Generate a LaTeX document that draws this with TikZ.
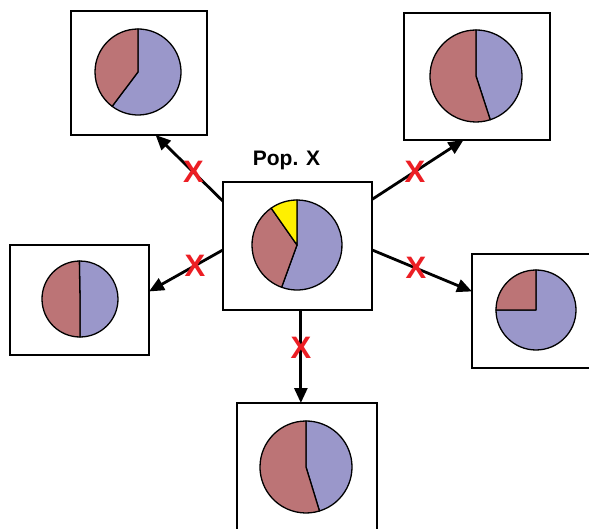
\documentclass[tikz,border=0pt]{standalone}
\usepackage{fontspec}
\setmainfont{Liberation Sans}
\usetikzlibrary{arrows.meta, positioning}
\definecolor{pieblue}{RGB}{154,151,202}
\definecolor{piered}{RGB}{188,116,118}
\definecolor{pieyellow}{RGB}{255,240,0}
\definecolor{xred}{RGB}{236,30,36}

\begin{document}
\begin{tikzpicture}[x=1pt, y=1pt,
  popbox/.style={draw, line width=1.5pt, outer sep=0pt, inner sep=0pt, fill=white},
  slice/.style={draw, line width=1.3pt, line join=round},
  arr/.style={line width=2.8pt, -{Triangle[length=15pt,width=13pt]}},
  xmark/.style={text=xred, font=\bfseries\fontsize{31}{31}\selectfont, inner sep=0pt}]
\useasboundingbox (0,0) rectangle (589,528);
\clip (0,0) rectangle (589,528);
					% Population boxes
					\node[popbox, minimum width=149pt, minimum height=128pt] (popx) at (297.5,282) {};
					\node[popbox, minimum width=136pt, minimum height=124pt] (tl) at (139,455) {};
					\node[popbox, minimum width=146pt, minimum height=127pt] (tr) at (477,451.5) {};
					\node[popbox, minimum width=139pt, minimum height=110pt] (lf) at (79.5,228) {};
					\node[popbox, minimum width=128pt, minimum height=114pt] (rt) at (536,217) {};
					\node[popbox, minimum width=140pt, minimum height=128pt] (bt) at (307,61) {};
					% Title
					\node[inner sep=0pt, font=\bfseries\fontsize{21}{21}\selectfont,
					above=12pt of popx.north, xshift=-11pt] (title) {Pop. X};
					% Pie charts
					\fill[slice, fill=pieblue] (297,283) -- ++(-110:45) arc[start angle=-110, end angle=90, radius=45] -- cycle;
					\fill[slice, fill=piered] (297,283) -- ++(125:45) arc[start angle=125, end angle=250, radius=45] -- cycle;
					\fill[slice, fill=pieyellow] (297,283) -- ++(90:45) arc[start angle=90, end angle=125, radius=45] -- cycle;
					\fill[slice, fill=pieblue] (138,456) -- ++(-127:43) arc[start angle=-127, end angle=90, radius=43] -- cycle;
					\fill[slice, fill=piered] (138,456) -- ++(90:43) arc[start angle=90, end angle=233, radius=43] -- cycle;
					\fill[slice, fill=pieblue] (476,452) -- ++(-72:46) arc[start angle=-72, end angle=90, radius=46] -- cycle;
					\fill[slice, fill=piered] (476,452) -- ++(90:46) arc[start angle=90, end angle=288, radius=46] -- cycle;
					\fill[slice, fill=pieblue] (80,229) -- ++(-90:38) arc[start angle=-90, end angle=91, radius=38] -- cycle;
					\fill[slice, fill=piered] (80,229) -- ++(91:38) arc[start angle=91, end angle=270, radius=38] -- cycle;
					\fill[slice, fill=pieblue] (536,218) -- ++(180:40) arc[start angle=180, end angle=450, radius=40] -- cycle;
					\fill[slice, fill=piered] (536,218) -- ++(90:40) arc[start angle=90, end angle=180, radius=40] -- cycle;
					\fill[slice, fill=pieblue] (306,61) -- ++(-73:46) arc[start angle=-73, end angle=90, radius=46] -- cycle;
					\fill[slice, fill=piered] (306,61) -- ++(90:46) arc[start angle=90, end angle=287, radius=46] -- cycle;
					% Arrows
					\draw[arr] (popx.149) -- node[xmark, pos=.44] {X} (tl.-75);
					\draw[arr] (popx.32) -- node[xmark, pos=.47] {X} (tr.-102);
					\draw[arr] (popx.183) -- node[xmark, pos=.38] {X} (lf.7);
					\draw[arr] (popx.-3) -- node[xmark, pos=.44] {X} (rt.163);
					\draw[arr] (popx.-87) -- node[xmark, pos=.41] {X} (popx.-87 |- bt.north);
\end{tikzpicture}
\end{document}
